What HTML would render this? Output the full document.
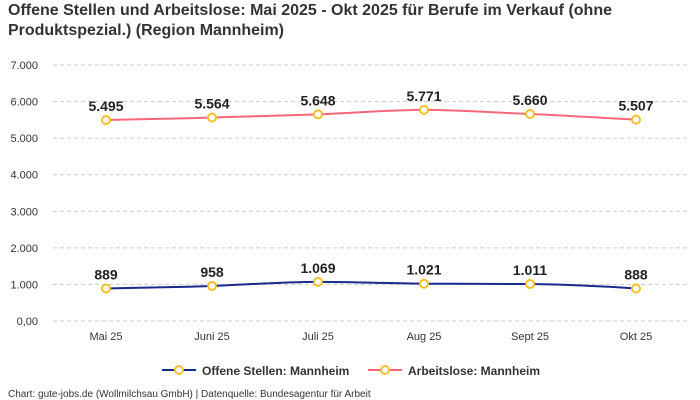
<!DOCTYPE html>
<html><head><meta charset="utf-8"><style>
body{margin:0;background:#fff;}
svg{display:block;font-family:"Liberation Sans",sans-serif;}
</style></head><body>
<svg width="700" height="400" xmlns="http://www.w3.org/2000/svg">
<text x="8" y="15" font-size="16" font-weight="bold" fill="#333" textLength="604" lengthAdjust="spacingAndGlyphs">Offene Stellen und Arbeitslose: Mai 2025 - Okt 2025 für Berufe im Verkauf (ohne</text>
<text x="8" y="35" font-size="16" font-weight="bold" fill="#333" textLength="276" lengthAdjust="spacingAndGlyphs">Produktspezial.) (Region Mannheim)</text>
<g stroke="#ccc" stroke-dasharray="4,3" stroke-width="1">
<line x1="53" x2="688" y1="65" y2="65"/><line x1="53" x2="688" y1="101.6" y2="101.6"/>
<line x1="53" x2="688" y1="138.1" y2="138.1"/><line x1="53" x2="688" y1="174.7" y2="174.7"/>
<line x1="53" x2="688" y1="211.3" y2="211.3"/><line x1="53" x2="688" y1="247.9" y2="247.9"/>
<line x1="53" x2="688" y1="284.4" y2="284.4"/><line x1="53" x2="688" y1="321" y2="321"/>
</g>
<g font-size="11" fill="#333" text-anchor="end">
<text x="38" y="69">7.000</text><text x="38" y="105.6">6.000</text><text x="38" y="142.1">5.000</text>
<text x="38" y="178.7">4.000</text><text x="38" y="215.3">3.000</text><text x="38" y="251.9">2.000</text>
<text x="38" y="288.4">1.000</text><text x="38" y="325">0,00</text>
</g>
<g font-size="11" fill="#333" text-anchor="middle">
<text x="106" y="340">Mai 25</text><text x="212" y="340">Juni 25</text><text x="318" y="340">Juli 25</text>
<text x="424" y="340">Aug 25</text><text x="530" y="340">Sept 25</text><text x="636" y="340">Okt 25</text>
</g>
<path d="M106,120 C160,119 180,118.5 212,117.5 C250,116.5 280,115.5 318,114.4 C360,112.5 390,110 424,109.9 C460,110 500,113 530,114 C570,115.5 600,118 636,119.6" fill="none" stroke="#f7677c" stroke-width="2"/>
<path d="M106,288.5 C160,287.5 180,287 212,286 C250,284.5 280,282 318,281.9 C360,282 390,283.5 424,283.7 C460,283.9 500,283.8 530,284 C570,284.5 600,286 636,288.5" fill="none" stroke="#1a2a8c" stroke-width="2"/>
<g fill="#fff" stroke="#f5c02a" stroke-width="2">
<circle cx="106" cy="120" r="4"/><circle cx="212" cy="117.5" r="4"/><circle cx="318" cy="114.4" r="4"/>
<circle cx="424" cy="109.9" r="4"/><circle cx="530" cy="114" r="4"/><circle cx="636" cy="119.6" r="4"/>
<circle cx="106" cy="288.5" r="4"/><circle cx="212" cy="286" r="4"/><circle cx="318" cy="281.9" r="4"/>
<circle cx="424" cy="283.7" r="4"/><circle cx="530" cy="284" r="4"/><circle cx="636" cy="288.5" r="4"/>
</g>
<g font-size="14" font-weight="bold" fill="#222" text-anchor="middle">
<text x="106" y="111">5.495</text><text x="212" y="108.5">5.564</text><text x="318" y="105.4">5.648</text>
<text x="424" y="101">5.771</text><text x="530" y="105">5.660</text><text x="636" y="110.6">5.507</text>
<text x="106" y="279.5">889</text><text x="212" y="277">958</text><text x="318" y="273">1.069</text>
<text x="424" y="274.7">1.021</text><text x="530" y="275">1.011</text><text x="636" y="279.5">888</text>
</g>
<line x1="162" x2="196" y1="370" y2="370" stroke="#1a2a8c" stroke-width="2"/>
<circle cx="179" cy="370" r="4" fill="#fff" stroke="#f5c02a" stroke-width="2"/>
<text x="202" y="375" font-size="12" font-weight="bold" fill="#333">Offene Stellen: Mannheim</text>
<line x1="368" x2="402" y1="370" y2="370" stroke="#f7677c" stroke-width="2"/>
<circle cx="385" cy="370" r="4" fill="#fff" stroke="#f5c02a" stroke-width="2"/>
<text x="408" y="375" font-size="12" font-weight="bold" fill="#333">Arbeitslose: Mannheim</text>
<text x="8" y="397" font-size="10" fill="#333">Chart: gute-jobs.de (Wollmilchsau GmbH) | Datenquelle: Bundesagentur für Arbeit</text>
</svg>
</body></html>
